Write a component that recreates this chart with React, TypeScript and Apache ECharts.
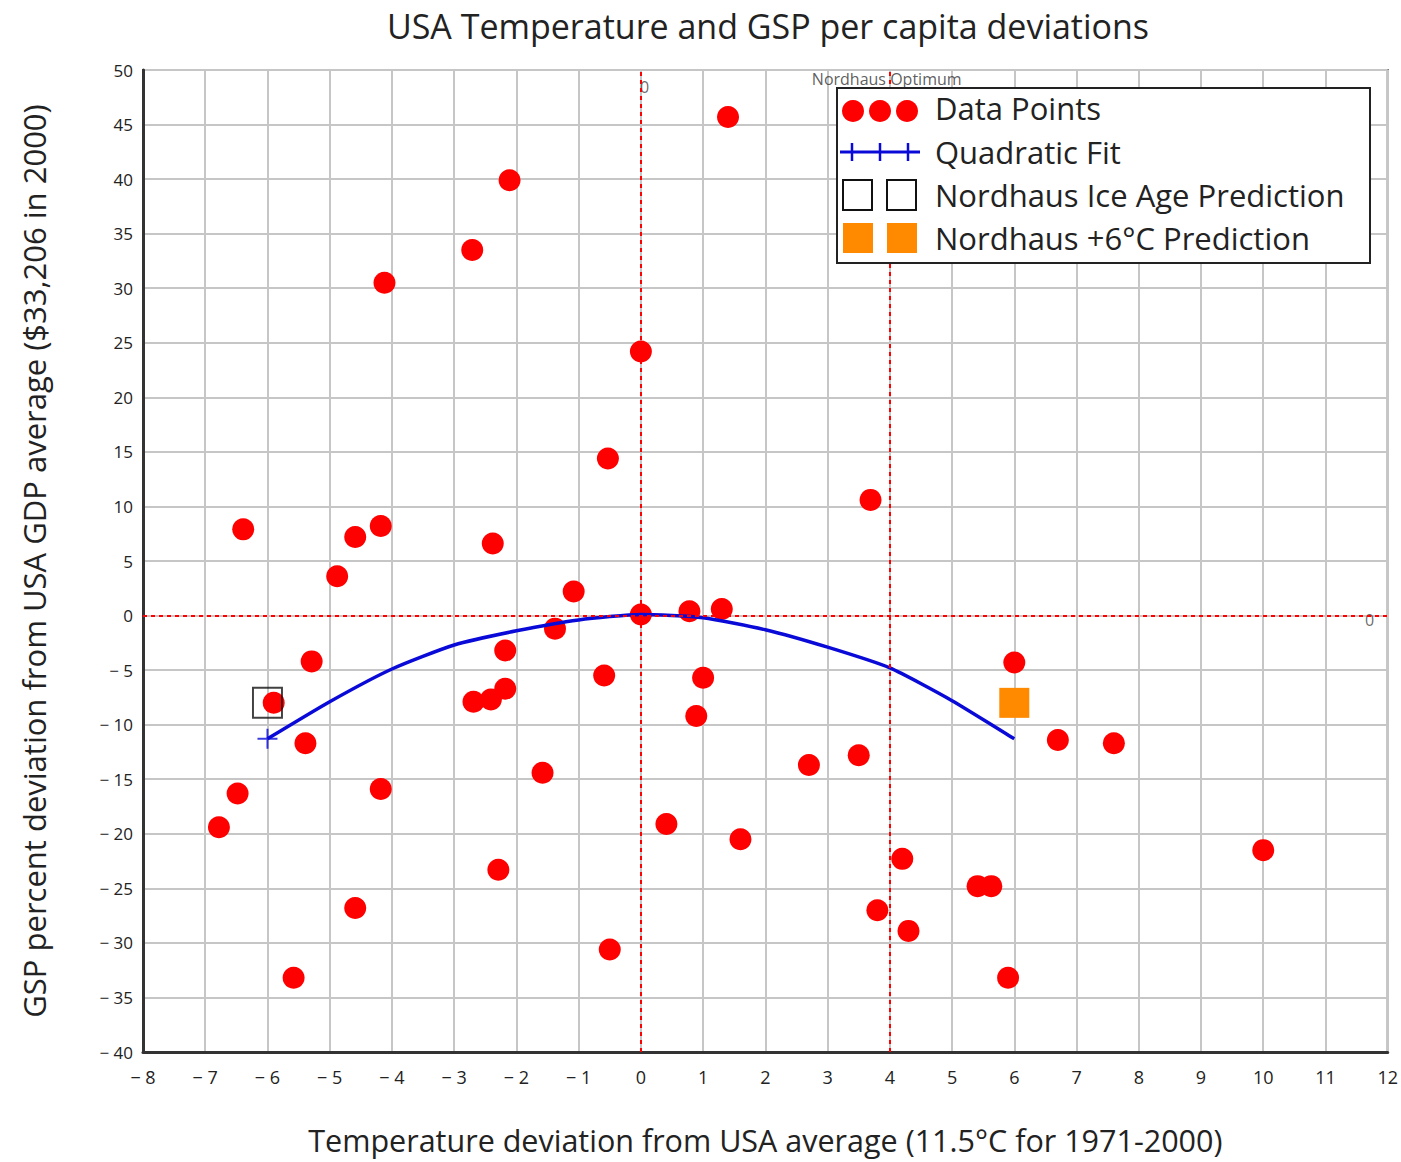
import React, { useEffect, useRef } from "react";
import * as echarts from "echarts";

const titleText = "USA Temperature and GSP per capita deviations";
const xAxisName = "Temperature deviation from USA average (11.5°C for 1971-2000)";
const yAxisName = "GSP percent deviation from USA GDP average ($33,206 in 2000)";

const xMin = -8;
const xMax = 12;
const yMin = -40;
const yMax = 50;

const dataPoints: number[][] = [
  [1.4, 45.7], [-2.11, 39.9], [-2.71, 33.5], [-4.12, 30.5], [0.0, 24.2],
  [-0.53, 14.4], [3.69, 10.6], [-6.39, 7.9], [-4.18, 8.2], [-4.59, 7.2],
  [-2.38, 6.6], [-4.88, 3.6], [-1.08, 2.2], [0.0, 0.1], [0.78, 0.4],
  [1.3, 0.6], [-1.38, -1.2], [-5.29, -4.2], [-2.18, -3.2], [-0.59, -5.5],
  [1.0, -5.7], [6.0, -4.3], [-5.9, -8.0], [-2.69, -7.9], [-2.41, -7.7],
  [-2.18, -6.7], [0.89, -9.2], [-5.39, -11.7], [6.7, -11.4], [7.6, -11.7],
  [3.5, -12.8], [2.7, -13.7], [-1.58, -14.4], [-6.48, -16.3], [-4.18, -15.9],
  [-6.78, -19.4], [0.41, -19.1], [1.6, -20.5], [10.0, -21.5], [4.2, -22.3],
  [-2.29, -23.3], [5.41, -24.8], [5.63, -24.8], [-4.59, -26.8], [3.8, -27.0],
  [4.3, -28.9], [-0.5, -30.6], [-5.58, -33.2], [5.9, -33.2],
];

const fitX = [-6, -5, -4, -3, -2, -1, 0, 1, 2, 3, 4, 5, 6];
const fitY = [-11.3, -7.9, -4.9, -2.7, -1.4, -0.4, 0.1, -0.2, -1.3, -2.9, -4.8, -7.8, -11.3];
const fitStartMarker = [[-6, -11.3]];

const iceAgePrediction = [[-6, -8.0]];
const plus6Prediction = [[6, -8.0]];

const refLinesX = [0, 4];
const refLinesY = [0];

const annotations = [
  { value: [0.06, 48.4], text: "0" },
  { value: [3.95, 49.2], text: "Nordhaus Optimum" },
  { value: [11.71, -0.4], text: "0" },
];

const legendItems = [
  "Data Points",
  "Quadratic Fit",
  "Nordhaus Ice Age Prediction",
  "Nordhaus +6°C Prediction",
];

const FONT = "'Open Sans', 'Noto Sans', sans-serif";
const RED = "#ff0000";
const BLUE = "#0a0ad8";
const ORANGE = "#ff8a00";

function fmtTick(v: number) {
  return v < 0 ? "\u2212 " + Math.abs(v) : String(v);
}

export default function App() {
  const ref = useRef<HTMLDivElement>(null);

  useEffect(() => {
    if (!ref.current) return;
    const chart = echarts.init(ref.current, undefined, { renderer: "svg" });

    const lx = 837;
    const ly = 88;
    const rowY = [108, 152, 195, 238];
    const Z = 100;
    const legendChildren: any[] = [
      {
        type: "rect",
        z: Z,
        shape: { x: lx, y: ly, width: 533, height: 175 },
        style: { fill: "#ffffff", stroke: "#222", lineWidth: 2 },
      },
      ...[853, 880, 907].map((cx) => ({
        type: "circle",
        z: Z + 1,
        shape: { cx, cy: rowY[0] + 3, r: 11 },
        style: { fill: RED },
      })),
      {
        type: "line",
        z: Z + 1,
        shape: { x1: 840, y1: rowY[1], x2: 920, y2: rowY[1] },
        style: { stroke: BLUE, lineWidth: 3 },
      },
      ...[852, 880, 908].map((cx) => ({
        type: "line",
        z: Z + 1,
        shape: { x1: cx, y1: rowY[1] - 9, x2: cx, y2: rowY[1] + 9 },
        style: { stroke: BLUE, lineWidth: 2.5 },
      })),
      ...[843, 887].map((x) => ({
        type: "rect",
        z: Z + 1,
        shape: { x, y: rowY[2] - 15, width: 29, height: 30 },
        style: { fill: "#fff", stroke: "#111", lineWidth: 2 },
      })),
      ...[843, 887].map((x) => ({
        type: "rect",
        z: Z + 1,
        shape: { x, y: rowY[3] - 15, width: 30, height: 30 },
        style: { fill: ORANGE },
      })),
      ...legendItems.map((t, i) => ({
        type: "text",
        z: Z + 1,
        x: 935,
        y: rowY[i],
        style: {
          text: t,
          fill: "#222",
          font: `31px ${FONT}`,
          textVerticalAlign: "middle",
          textAlign: "left",
        },
      })),
    ];

    chart.setOption({
      animation: false,
      backgroundColor: "#ffffff",
      title: {
        text: titleText,
        left: 763,
        top: 4,
        textAlign: "center",
        textStyle: { fontFamily: FONT, fontSize: 34, fontWeight: "normal", color: "#222" },
      },
      grid: {
        left: 143,
        right: 11,
        top: 70,
        bottom: 110,
        show: true,
        borderColor: "#444",
        borderWidth: 2,
        backgroundColor: "transparent",
      },
      xAxis: {
        type: "value",
        min: xMin,
        max: xMax,
        interval: 1,
        name: xAxisName,
        nameLocation: "middle",
        nameGap: 72,
        nameTextStyle: { fontFamily: FONT, fontSize: 30.5, color: "#222" },
        axisLine: { show: true, onZero: false, lineStyle: { color: "#333", width: 3 } },
        axisTick: { show: false },
        axisLabel: { fontFamily: FONT, fontSize: 18, color: "#222", margin: 16, formatter: fmtTick },
        splitLine: { show: true, lineStyle: { color: "#c6c6c6", width: 2 } },
      },
      yAxis: {
        type: "value",
        min: yMin,
        max: yMax,
        interval: 5,
        name: yAxisName,
        nameLocation: "middle",
        nameGap: 94,
        nameRotate: 90,
        nameTextStyle: { fontFamily: FONT, fontSize: 31, color: "#222" },
        axisLine: { show: true, onZero: false, lineStyle: { color: "#333", width: 3 } },
        axisTick: { show: false },
        axisLabel: { fontFamily: FONT, fontSize: 17, color: "#222", margin: 10, formatter: fmtTick },
        splitLine: { show: true, lineStyle: { color: "#c6c6c6", width: 2 } },
      },
      series: [
        {
          name: "Reference lines",
          type: "line",
          data: [],
          silent: true,
          markLine: {
            silent: true,
            symbol: ["none", "none"],
            label: { show: false },
            lineStyle: { color: RED, type: [4, 4], width: 2 },
            data: [
              ...refLinesX.map((x) => ({ xAxis: x })),
              ...refLinesY.map((y) => ({ yAxis: y })),
            ],
          },
        },
        {
          name: "Annotations",
          type: "scatter",
          symbolSize: 0,
          silent: true,
          data: annotations.map((a) => ({
            value: a.value,
            label: {
              show: true,
              formatter: a.text,
              position: "inside",
              fontFamily: FONT,
              fontSize: 16,
              color: a.text === "0" ? "#444" : "#333",
            },
          })),
          z: 1,
        },
        {
          name: "Data Points",
          type: "scatter",
          symbol: "circle",
          symbolSize: 22,
          itemStyle: { color: RED, opacity: 1 },
          data: dataPoints,
          z: 3,
        },
        {
          name: "Quadratic Fit",
          type: "line",
          data: fitX.map((x, i) => [x, fitY[i]]),
          smooth: 0.2,
          symbol: "none",
          lineStyle: { color: BLUE, width: 3.5 },
          z: 4,
        },
        {
          name: "Fit start",
          type: "scatter",
          data: fitStartMarker,
          symbol: "path://M0,5 L10,5 M5,0 L5,10",
          symbolSize: 20,
          itemStyle: { color: "none", borderColor: BLUE, borderWidth: 2 },
          z: 5,
        },
        {
          name: "Nordhaus Ice Age Prediction",
          type: "scatter",
          data: iceAgePrediction,
          symbol: "rect",
          symbolSize: [29, 30],
          itemStyle: { color: "none", borderColor: "#111", borderWidth: 2 },
          z: 5,
        },
        {
          name: "Nordhaus +6°C Prediction",
          type: "scatter",
          data: plus6Prediction,
          symbol: "rect",
          symbolSize: [30, 30],
          itemStyle: { color: ORANGE, opacity: 1 },
          z: 5,
        },
      ],
      graphic: legendChildren,
    });

    return () => chart.dispose();
  }, []);

  return (
    <div
      ref={ref}
      style={{ position: "fixed", left: 0, top: 0, width: 1401, height: 1162, background: "#fff" }}
    />
  );
}
